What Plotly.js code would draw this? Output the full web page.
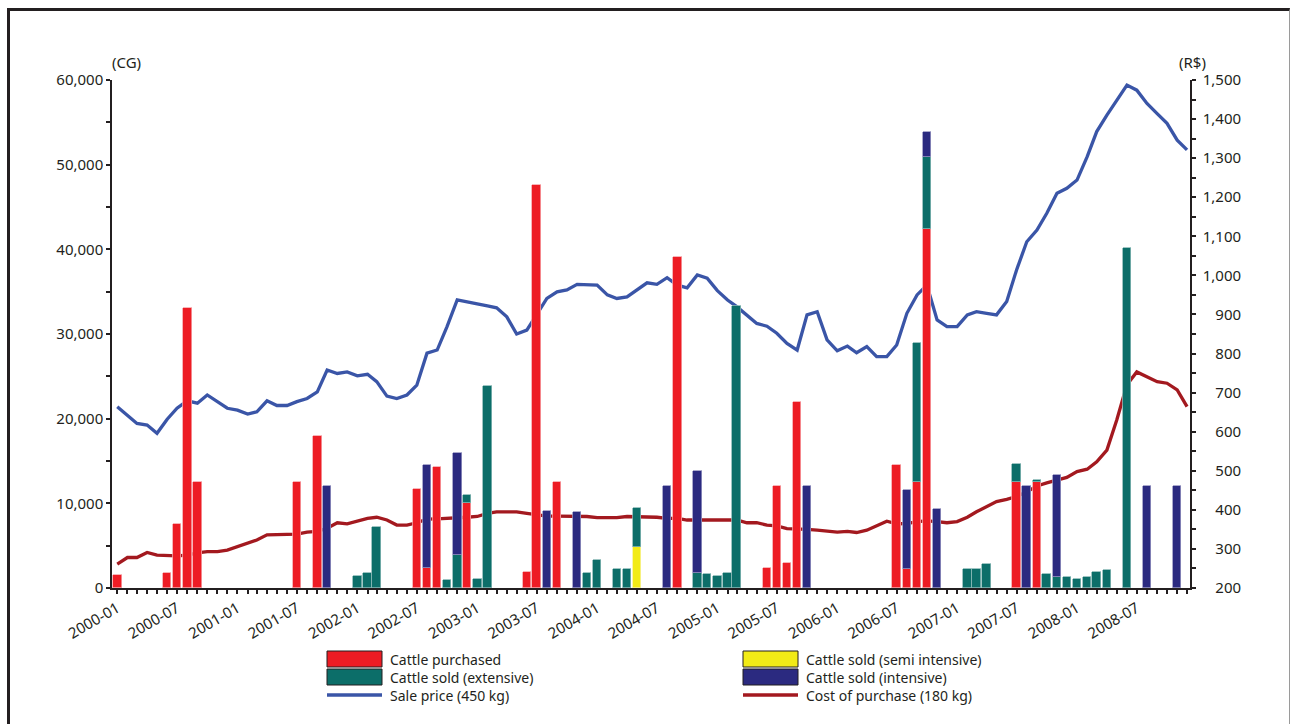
<!DOCTYPE html>
<html>
<head>
<meta charset="utf-8">
<script src="https://cdn.plot.ly/plotly-3.0.1.min.js"></script>
<style>
  html, body { margin: 0; padding: 0; background: #ffffff; }
  #wrap { position: relative; width: 1290px; height: 724px; overflow: hidden; }
  #frame { position: absolute; left: 7px; top: 8px; width: 1279px; height: 760px;
           border-left: 3px solid #231f20; border-top: 3px solid #231f20; border-right: 1px solid #9a9a9a; }
  #chart { position: absolute; left: 0; top: 0; width: 1290px; height: 724px; }
</style>
</head>
<body>
<div id="wrap">
  <div id="frame"></div>
  <div id="chart"></div>
</div>
<script>
// ---------- DATA ----------
// Bars (left axis, CG) – month "YYYY-MM" and value
const purchasedMonths = ["2000-01","2000-06","2000-07","2000-08","2000-09","2001-07","2001-09","2002-07","2002-08","2002-09","2002-12","2003-06","2003-07","2003-09","2004-09","2005-06","2005-07","2005-08","2005-09","2006-07","2006-08","2006-09","2006-10","2007-07","2007-09"];
const purchasedValues = [1500,1800,7600,33100,12500,12500,18000,11700,2400,14300,10000,1900,47600,12500,39100,2400,12000,2950,22000,14500,2250,12500,42400,12500,12500];

const semiMonths = ["2004-05"];
const semiValues = [4800];

const extensiveMonths = ["2002-01","2002-02","2002-03","2002-10","2002-11","2002-12","2003-01","2003-02","2003-12","2004-01","2004-03","2004-04","2004-05","2004-11","2004-12","2005-01","2005-02","2005-03","2006-09","2006-10","2007-02","2007-03","2007-04","2007-07","2007-09","2007-10","2007-11","2007-12","2008-01","2008-02","2008-03","2008-04","2008-06"];
const extensiveValues = [1450,1750,7250,950,3900,1000,1100,23900,1800,3300,2250,2250,4700,1800,1650,1450,1750,33300,16400,8450,2250,2250,2800,2200,200,1600,1300,1300,1100,1300,1900,2100,40200];

const intensiveMonths = ["2001-10","2002-08","2002-11","2003-08","2003-11","2004-08","2004-11","2005-10","2006-08","2006-10","2006-11","2007-08","2007-11","2008-08","2008-11"];
const intensiveValues = [12000,12100,12100,9100,9000,12000,12000,12000,9300,2950,9300,12000,12000,12000,12000];

// Lines (right axis, R$) – one value per month, 2000-01 .. 2008-12
const years = [2000,2001,2002,2003,2004,2005,2006,2007,2008];
const salePrice = [
  664,643,621,617,596,632,660,679,673,694,677,660,
  655,645,651,679,667,667,677,685,702,758,749,753,
  743,747,728,691,685,694,719,801,809,869,937,933,
  927,922,917,894,850,860,899,941,958,963,977,977,
  975,950,941,945,964,981,977,994,975,968,1001,993,
  961,937,920,899,877,870,852,826,809,899,907,835,
  807,819,802,818,792,792,822,903,950,975,886,869,
  869,899,907,903,899,933,1014,1086,1116,1159,1210,1223,
  1244,1304,1368,1410,1449,1487,1474,1440,1414,1389,1346,1321
];
const purchaseCost = [
  261,278,278,291,284,282,282,284,290,293,293,297,
  306,313,323,336,336,336,338,343,345,353,367,364,
  372,378,381,374,361,361,367,376,377,378,378,381,
  383,391,395,395,395,391,387,384,384,384,384,383,
  380,380,380,383,383,381,381,378,378,374,374,374,
  374,374,374,367,367,361,359,352,352,350,348,346,
  343,345,342,348,360,371,364,365,370,372,370,367,
  370,381,395,408,421,427,434,446,461,469,476,483,
  498,504,523,553,630,720,753,741,728,724,707,664
];

const leftTicks = [0,10000,20000,30000,40000,50000,60000];
const rightTicks = [200,300,400,500,600,700,800,900,1000,1100,1200,1300,1400,1500];
const legendLabels = ["Cattle purchased","Cattle sold (extensive)","Sale price (450 kg)",
                      "Cattle sold (semi intensive)","Cattle sold (intensive)","Cost of purchase (180 kg)"];

// ---------- BUILD ----------
const months = [];
years.forEach(y => { for (let m = 1; m <= 12; m++) months.push(y + "-" + String(m).padStart(2, "0") + "-01"); });
const toDate = arr => arr.map(s => s + "-01");

const C_RED = "#ed1c24", C_TEAL = "#0c6e69", C_NAVY = "#2b2a80", C_YEL = "#f2eb16";
const C_BLUE = "#3a55a7", C_DRED = "#a3191f", INK = "#231f20";
const FONT = "Noto Sans, Open Sans, sans-serif";
const barW = 0.86 * 30.44 * 86400000;

const lineTrace = (vals, color, name) => ({
  type: "scatter", mode: "lines", x: months, y: vals, name: name,
  xaxis: "x", yaxis: "y", line: { color: color, width: 3.3 }, hoverinfo: "x+y"
});
const barTrace = (mo, vals, color, name, edge) => ({
  type: "bar", x: toDate(mo), y: vals, name: name, width: barW,
  xaxis: "x", yaxis: "y2",
  marker: { color: color, line: { color: edge, width: 0.8 } }
});

const data = [
  lineTrace(salePrice, C_BLUE, legendLabels[2]),
  lineTrace(purchaseCost, C_DRED, legendLabels[5]),
  barTrace(purchasedMonths, purchasedValues, C_RED, legendLabels[0], "#f6a3a6"),
  barTrace(semiMonths, semiValues, C_YEL, legendLabels[3], "#f8f29a"),
  barTrace(extensiveMonths, extensiveValues, C_TEAL, legendLabels[1], "#86b7b4"),
  barTrace(intensiveMonths, intensiveValues, C_NAVY, legendLabels[4], "#9695c0")
];

// plot area in pixels: x 112..1190, y 80..588
const L = 112, R = 1190, T = 80, B = 588;
const px = x => (x - L) / (R - L);
const py = y => (B - y) / (B - T);

const xRange = ["1999-12-16", "2008-12-10"];
const tickFont = { family: FONT, size: 15, color: INK };

// right-aligned right-axis labels using figure/punctuation spaces
const fmt = v => v.toLocaleString("en-US");
const rightText = rightTicks.map(v => (v < 1000 ? "\u2007\u2008" : "") + fmt(v));

const shapes = [];
const annotations = [
  { xref: "paper", yref: "paper", x: px(126), y: py(62), text: "(CG)", showarrow: false,
    font: { family: FONT, size: 15, color: INK }, xanchor: "center", yanchor: "middle" },
  { xref: "paper", yref: "paper", x: px(1192), y: py(62), text: "(R$)", showarrow: false,
    font: { family: FONT, size: 15, color: INK }, xanchor: "center", yanchor: "middle" }
];
// legend (manual, two columns)
const legItems = [
  { kind: "box", color: C_RED, col: 0, row: 0, label: legendLabels[0] },
  { kind: "box", color: C_TEAL, col: 0, row: 1, label: legendLabels[1] },
  { kind: "line", color: C_BLUE, col: 0, row: 2, label: legendLabels[2] },
  { kind: "box", color: C_YEL, col: 1, row: 0, label: legendLabels[3] },
  { kind: "box", color: C_NAVY, col: 1, row: 1, label: legendLabels[4] },
  { kind: "line", color: C_DRED, col: 1, row: 2, label: legendLabels[5] }
];
const colX = [327, 743], rowY = [659, 677, 695];
legItems.forEach(it => {
  const x0 = colX[it.col], x1 = x0 + 55, yc = rowY[it.row];
  if (it.kind === "box") {
    shapes.push({ type: "rect", xref: "paper", yref: "paper", x0: px(x0), x1: px(x1),
      y0: py(yc + 8), y1: py(yc - 8), fillcolor: it.color, line: { color: INK, width: 1 } });
  } else {
    shapes.push({ type: "line", xref: "paper", yref: "paper", x0: px(x0), x1: px(x1),
      y0: py(yc), y1: py(yc), line: { color: it.color, width: 3.5 } });
  }
  annotations.push({ xref: "paper", yref: "paper", x: px(x1 + 6), y: py(yc), text: it.label,
    showarrow: false, xanchor: "left", yanchor: "middle",
    font: { family: FONT, size: 14, color: INK } });
});

const layout = {
  width: 1290, height: 724,
  margin: { l: L, r: 1290 - R, t: T, b: 724 - B, pad: 0 },
  paper_bgcolor: "rgba(0,0,0,0)", plot_bgcolor: "rgba(0,0,0,0)",
  showlegend: false, barmode: "stack", bargap: 0,
  font: { family: FONT, color: INK },
  xaxis: {
    type: "date", range: xRange, tick0: "2000-01-01", dtick: "M6", tickformat: "%Y-%m",
    tickangle: -30, ticks: "outside", ticklen: 4, tickwidth: 1.5, tickcolor: INK,
    minor: { dtick: "M1", ticks: "outside", ticklen: 4, tickwidth: 1.5, tickcolor: INK },
    showline: true, linecolor: INK, linewidth: 2, showgrid: false, zeroline: false,
    tickfont: tickFont, anchor: "y"
  },
  xaxis2: {
    type: "date", range: xRange, overlaying: "x", anchor: "y", side: "bottom",
    tick0: "2000-01-01", dtick: "M1", ticks: "inside", ticklen: 3, tickwidth: 1.5, tickcolor: INK,
    showticklabels: false, showline: false, showgrid: false, zeroline: false
  },
  yaxis: {
    side: "right", range: [200, 1500], tickvals: rightTicks, ticktext: rightText,
    ticks: "outside", ticklen: 4, tickwidth: 1.5, tickcolor: INK,
    minor: { dtick: 50, ticks: "outside", ticklen: 4, tickwidth: 1.5, tickcolor: INK },
    showline: true, linecolor: INK, linewidth: 1.5, showgrid: false, zeroline: false,
    tickfont: tickFont, anchor: "x", ticklabelstandoff: 4
  },
  yaxis2: {
    side: "left", overlaying: "y", range: [0, 60000], tickvals: leftTicks, tickformat: ",d",
    ticks: "outside", ticklen: 4, tickwidth: 1.5, tickcolor: INK,
    minor: { dtick: 5000, ticks: "outside", ticklen: 4, tickwidth: 1.5, tickcolor: INK },
    showline: true, linecolor: INK, linewidth: 1.5, showgrid: false, zeroline: false,
    tickfont: tickFont, anchor: "x"
  },
  yaxis3: {
    side: "left", overlaying: "y", anchor: "x", range: [0, 60000], dtick: 5000,
    ticks: "inside", ticklen: 4, tickwidth: 1.5, tickcolor: INK,
    showticklabels: false, showline: false, showgrid: false, zeroline: false
  },
  yaxis4: {
    side: "right", overlaying: "y", anchor: "x", range: [200, 1500], dtick: 50,
    ticks: "inside", ticklen: 4, tickwidth: 1.5, tickcolor: INK,
    showticklabels: false, showline: false, showgrid: false, zeroline: false
  },
  shapes: shapes,
  annotations: annotations
};

Plotly.newPlot("chart", data, layout, { displayModeBar: false, responsive: false });
</script>
</body>
</html>
